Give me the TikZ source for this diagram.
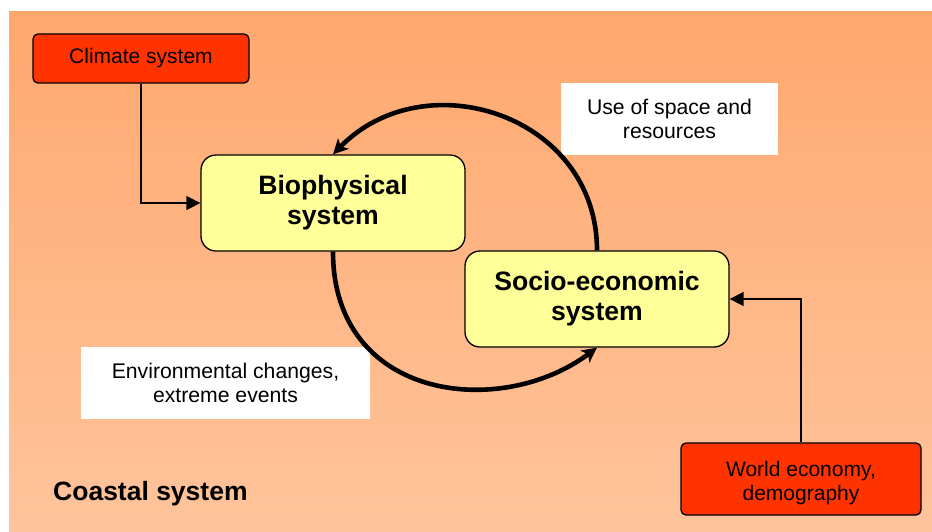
\documentclass[tikz,border=0pt]{standalone}
\usepackage{fontspec}
\setsansfont{Liberation Sans}
\usetikzlibrary{arrows.meta, positioning, backgrounds}
\definecolor{MyRed}{HTML}{FF3300}
\definecolor{MyYellow}{HTML}{FFFF99}
\definecolor{MyOrangeTop}{HTML}{FFA86E}
\definecolor{MyOrangeBottom}{HTML}{FFC49C}
\tikzset{every picture/.style={/utils/exec={\sffamily}}}

\begin{document}
\begin{tikzpicture} [x=1pt,y=-1pt,
			every node/.style={draw,align=center,inner sep=0pt},
			driver/.style={draw,rectangle,rounded corners=5pt,line width=1.3pt,fill=MyRed,minimum width=216pt,minimum height=49pt,font=\fontsize{21}{23.5}\selectfont},
			system/.style={draw,rectangle,rounded corners=15pt,line width=1.3pt,fill=MyYellow,minimum width=264pt,minimum height=96pt,font=\fontsize{26.6}{30}\selectfont\bfseries},
			legend/.style={draw=none,fill=white,font=\fontsize{21.2}{24}\selectfont},
			heading/.style={draw=none,fill=none,font=\fontsize{26.5}{30}\selectfont\bfseries},
			flow/.style={line width=1.4pt,-{Triangle[length=14pt,width=14pt]}},
			feedback/.style={line width=4.6pt,-{Stealth[length=15pt,width=15pt,inset=4pt]}}
		]
			\useasboundingbox (0,0) rectangle (932,531);
			\fill[white] (0,0) rectangle (932,531);
			\fill[top color=MyOrangeTop,bottom color=MyOrangeBottom] (9,11) rectangle (932,531);
			\node at (141,58.5) [driver] (nodeClimate) {Climate system};
			\node at (333,203) [system] (nodeBio) {Biophysical\\system};
			\node at (597,299) [system] (nodeSocio) {Socio-economic\\system};
			\node at (801,479) [driver,minimum width=240pt,minimum height=72pt] (nodeWorld) {\mbox{}\\[-0.5pt]World economy,\\demography};
			\node at (669.5,119) [legend,minimum width=217pt,minimum height=72pt] (legUse) {Use of space and\\resources};
			\node at (225.5,383) [legend,minimum width=289pt,minimum height=72pt] (legEnv) {Environmental changes,\\extreme events};
			\node at (53,494) [heading,anchor=west] (legCoast) {Coastal system};
			\draw[flow] (nodeClimate.south) |- (nodeBio.west);
			\draw[flow] (nodeWorld.north) |- (nodeSocio.east);
			\draw[feedback] (nodeSocio.north) .. controls (597,115) and (425,60) .. (nodeBio.north);
			\draw[feedback] (nodeBio.south) .. controls (333,400) and (500,420) .. (nodeSocio.south);
		\end{tikzpicture}
\end{document}
